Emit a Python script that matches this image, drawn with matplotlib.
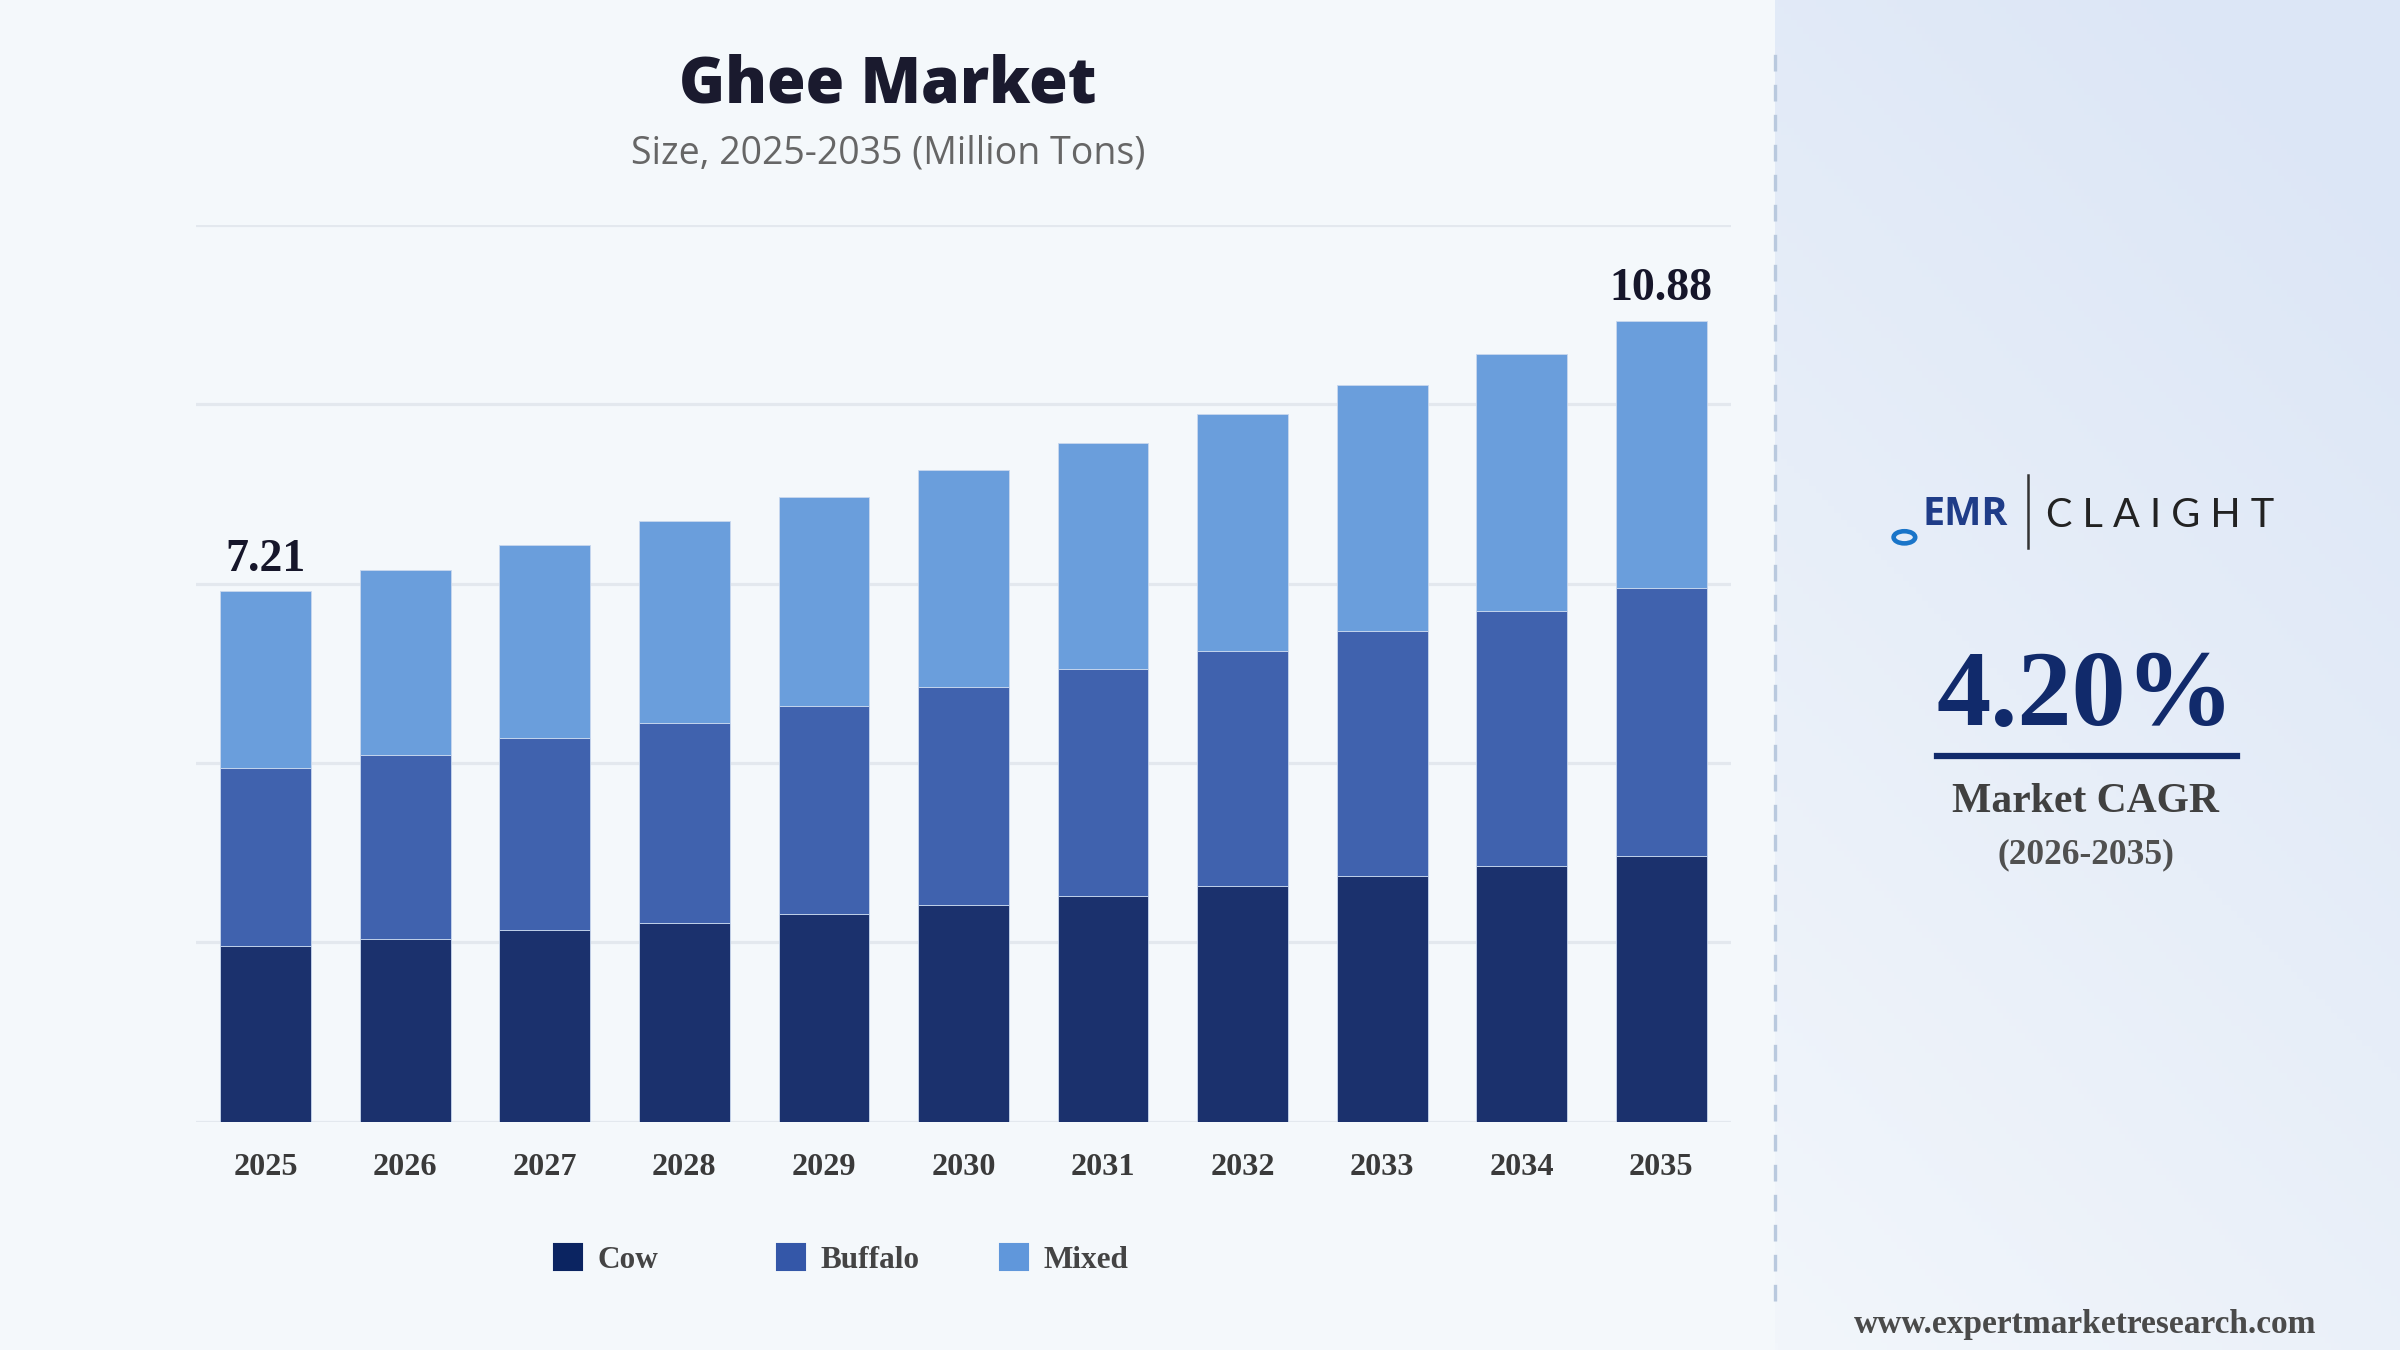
import matplotlib
matplotlib.use("Agg")
import matplotlib.pyplot as plt
import numpy as np
from matplotlib.patches import Patch, Circle
from matplotlib.lines import Line2D

# ---- data ----
years = ["2025", "2026", "2027", "2028", "2029", "2030", "2031", "2032", "2033", "2034", "2035"]
cow = [2.39, 2.49, 2.60, 2.70, 2.82, 2.95, 3.07, 3.20, 3.34, 3.47, 3.61]
buffalo = [2.41, 2.49, 2.61, 2.72, 2.83, 2.95, 3.08, 3.20, 3.33, 3.47, 3.64]
mixed = [2.41, 2.52, 2.62, 2.74, 2.84, 2.95, 3.07, 3.22, 3.34, 3.49, 3.63]
series_names = ["Cow", "Buffalo", "Mixed"]
first_label = "7.21"
last_label = "10.88"
cagr_text = "4.20%"

c_cow = "#1b316d"
c_buf = "#4062ae"
c_mix = "#6a9edc"
leg_cols = ["#0b2461", "#3457a8", "#6097db"]

fig = plt.figure(figsize=(16, 9), dpi=150)
fig.patch.set_facecolor("#f4f8fb")

# right panel gradient
bg = fig.add_axes([0.7397, 0, 0.2603, 1], zorder=0)
gy, gx = np.mgrid[0:1:200j, 0:1:200j]
t = np.clip(0.75 * (1 - gy) + 0.35 * gx, 0, 1)
top = np.array([0xdc, 0xe6, 0xf6]) / 255
bot = np.array([0xf2, 0xf6, 0xfb]) / 255
img = bot[None, None, :] * (1 - t[..., None]) + top[None, None, :] * t[..., None]
img = img[::-1]
bg.imshow(img, aspect="auto", extent=[0, 1, 0, 1], origin="lower")
bg.set_xlim(0, 1); bg.set_ylim(0, 1)
bg.axis("off")

# dashed divider
fig.add_artist(Line2D([0.7397, 0.7397], [0.036, 0.966], transform=fig.transFigure,
                      color="#b9c9de", lw=1.6, linestyle=(0, (5, 4)), zorder=2))

# main chart
ax = fig.add_axes([0.0816, 0.169, 0.6397, 0.6643], zorder=1)
ax.set_facecolor("none")
x = np.arange(len(years))
w = 0.65
ymax = 12.18
ax.set_xlim(-0.5, len(years) - 0.5)
ax.set_ylim(0, ymax)
for gv in np.linspace(0, ymax, 6):
    ax.axhline(gv, color="#e3e8ee", lw=1.5, zorder=0)

cow_a = np.array(cow); buf_a = np.array(buffalo); mix_a = np.array(mixed)
ax.bar(x, cow_a, w, color=c_cow, edgecolor="#c9d8ee", linewidth=0.4, zorder=2)
ax.bar(x, buf_a, w, bottom=cow_a, color=c_buf, edgecolor="#c9d8ee", linewidth=0.4, zorder=2)
ax.bar(x, mix_a, w, bottom=cow_a + buf_a, color=c_mix, edgecolor="#c9d8ee", linewidth=0.4, zorder=2)

totals = cow_a + buf_a + mix_a
serif = "Liberation Serif"
ax.annotate(first_label, (x[0], totals[0]), xytext=(0, 5), textcoords="offset points",
            ha="center", va="bottom", fontsize=22, fontweight="bold", family=serif, color="#16162a")
ax.annotate(last_label, (x[-1], totals[-1]), xytext=(0, 5), textcoords="offset points",
            ha="center", va="bottom", fontsize=22, fontweight="bold", family=serif, color="#16162a")

ax.set_xticks(x)
ax.set_xticklabels(years, family=serif, fontweight="bold", fontsize=15.5, color="#3a3a3a")
ax.tick_params(axis="x", length=0, pad=15)
ax.set_yticks([])
for s in ax.spines.values():
    s.set_visible(False)

# titles
fig.text(0.37, 0.937, "Ghee Market", ha="center", va="center", fontsize=30,
         fontweight=800, family="Open Sans", color="#1a1a2e")
fig.text(0.37, 0.886, "Size, 2025-2035 (Million Tons)", ha="center", va="center",
         fontsize=18, family="Open Sans", color="#666666")

# legend
leg_x = [0.231, 0.324, 0.417]
for name, col, lx in zip(series_names, leg_cols, leg_x):
    lg = fig.legend(handles=[Patch(facecolor=col, edgecolor=col, label=name)],
                    loc="center left", bbox_to_anchor=(lx - 0.012, 0.067), frameon=False,
                    handlelength=0.9, handleheight=0.9, handletextpad=0.5,
                    prop={"family": serif, "weight": "bold", "size": 15})
    for tx in lg.get_texts():
        tx.set_color("#444444")

# logo
fig.text(0.819, 0.619, "EMR", ha="center", va="center", fontsize=19, fontweight="bold",
         family="Open Sans", color="#1f3c88")
fig.add_artist(Circle((0.7935, 0.602), 0.0045, transform=fig.transFigure, fill=False,
                      edgecolor="#1a75c9", lw=2.2))
fig.add_artist(Line2D([0.8452, 0.8452], [0.594, 0.648], transform=fig.transFigure,
                      color="#333333", lw=1.2))
fig.text(0.9, 0.618, "C L A I G H T", ha="center", va="center", fontsize=19,
         family="Lato", fontweight="normal", color="#222222")

# CAGR
fig.text(0.869, 0.482, cagr_text, ha="center", va="center", fontsize=52,
         fontweight="bold", family=serif, color="#112a6b")
fig.add_artist(Line2D([0.807, 0.932], [0.44, 0.44], transform=fig.transFigure,
                      color="#112a6b", lw=3))
fig.text(0.869, 0.406, "Market CAGR", ha="center", va="center", fontsize=20,
         fontweight="bold", family=serif, color="#404040")
fig.text(0.869, 0.367, "(2026-2035)", ha="center", va="center", fontsize=17,
         fontweight="bold", family=serif, color="#505050")
fig.text(0.869, 0.019, "www.expertmarketresearch.com", ha="center", va="center",
         fontsize=16, fontweight="bold", family=serif, color="#4a4a4a")

fig.savefig("out.png", dpi=150, facecolor=fig.get_facecolor())
